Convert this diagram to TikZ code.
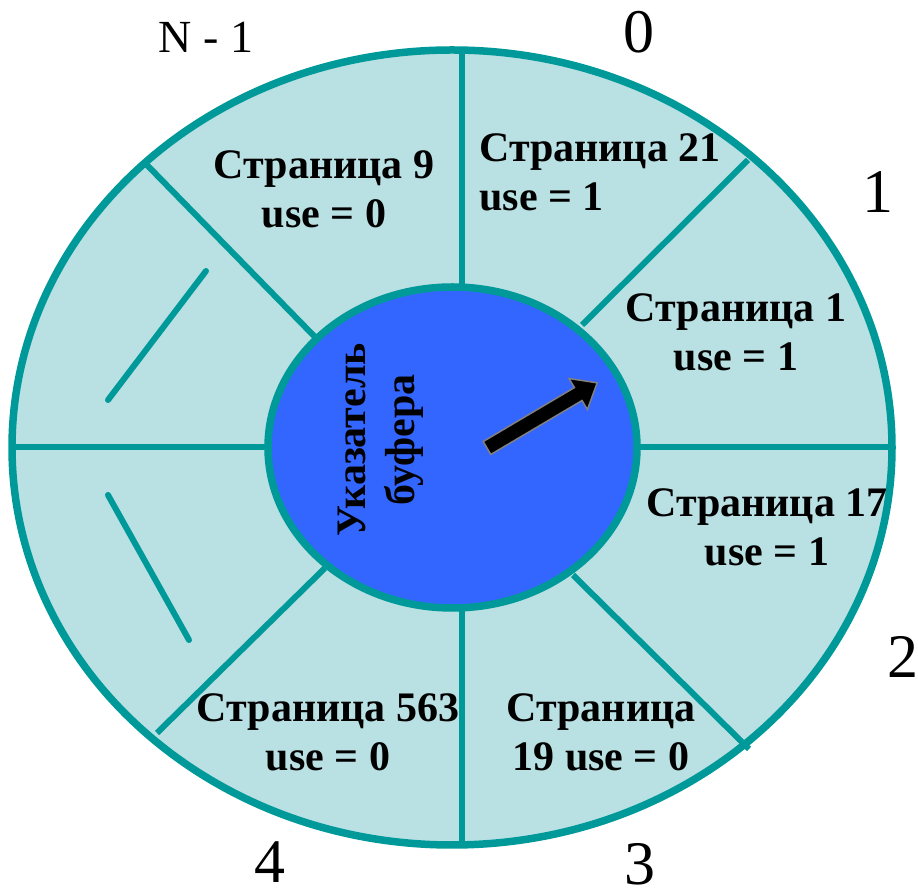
\documentclass[tikz,border=0pt]{standalone}
\usepackage{fontspec}
\setmainfont{Liberation Serif}
\definecolor{ringfill}{RGB}{185,224,227}
\definecolor{ringline}{RGB}{0,153,153}
\definecolor{hubfill}{RGB}{51,102,255}
\tikzset{
  page/.style={font=\bfseries\fontsize{42}{49}\selectfont, align=center, inner sep=0pt},
  slot/.style={font=\fontsize{62}{62}\selectfont, inner sep=0pt},
  spoke/.style={ringline, line width=6pt},
}
\begin{document}
\begin{tikzpicture}[x=1pt,y=1pt]
    \useasboundingbox (0,0) rectangle (918,888);
    % outer ring
    \fill[ringfill] (452,440.5) ellipse (440 and 397.5);
    % spokes between the frames
    \draw[spoke] (462,601) -- (462,838);
    \draw[spoke] (462,280) -- (462,43);
    \draw[spoke] (268,441) -- (12,441);
    \draw[spoke] (637,441) -- (892,441);
    \draw[spoke] (315,551) -- (145,725);
    \draw[spoke] (582,563) -- (748,728);
    \draw[spoke] (573,313) -- (749,139);
    \draw[spoke] (325,320) -- (157,155);
    % more frames left out
    \draw[spoke, line cap=round] (206,617) -- (108,488);
    \draw[spoke, line cap=round] (108,393) -- (189,248);
    \draw[ringline, line width=7.5pt] (452,440.5) ellipse (440 and 397.5);
    % hub
    \draw[ringline, line width=7.5pt, fill=hubfill] (452.5,440.5) ellipse (184.5 and 160.5);
    \node[page, rotate=90] (hub) at (381,448) {Указатель\\буфера};
    % clock hand
    \coordinate (ptrtail) at (487,440);
    \begin{scope}[shift={(ptrtail)}, rotate=30.6]
        \draw[fill=black, draw=gray, line width=1.5pt]
            (0,-7.5) -- (106,-7.5) -- (106,-18) -- (128,0) -- (106,18) -- (106,7.5) -- (0,7.5) -- cycle;
    \end{scope}
    % frames
    \node[page] (p9) at (324,699) {Страница 9\\use = 0};
    \node[page, align=left] (p21) at (600,716) {Страница 21\\use = 1};
    \node[page] (p1) at (736,556) {Страница 1\\use = 1};
    \node[page] (p17) at (767,361) {Страница 17\\use = 1};
    \node[page] (p19) at (601,156) {Страница\\19 use = 0};
    \node[page] (p563) at (328,156) {Страница 563\\use = 0};
    % slot numbers
    \node[font=\fontsize{46}{46}\selectfont, inner sep=0pt] (nm1) at (206,851) {N - 1};
    \node[slot] (s0) at (639,856) {0};
    \node[slot] (s1) at (878,696) {1};
    \node[slot] (s2) at (903,231) {2};
    \node[slot] (s3) at (640,24) {3};
    \node[slot] (s4) at (270,26) {4};
\end{tikzpicture}
\end{document}
